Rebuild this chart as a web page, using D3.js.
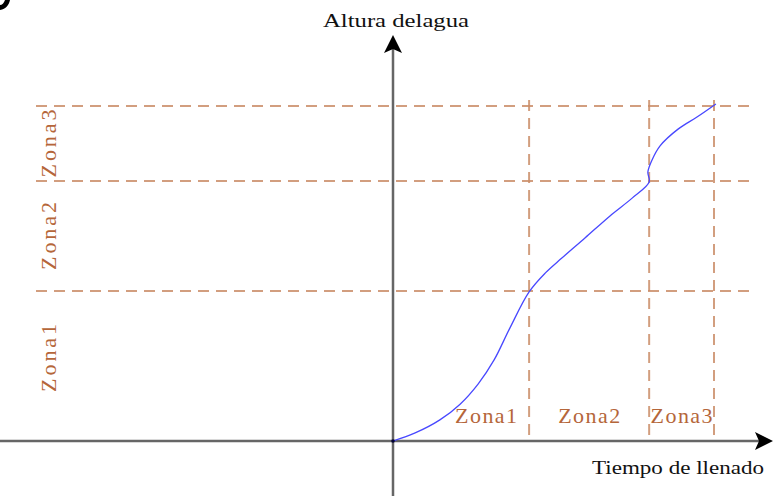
<!DOCTYPE html>
<html><head><meta charset="utf-8">
<script src="https://cdn.jsdelivr.net/npm/d3@7"></script>
<style>html,body{margin:0;padding:0;background:#fff;overflow:hidden}</style>
</head><body>
<svg id="c" width="782" height="496"></svg>
<script>
// ---- data ----
const xLabel = "Tiempo de llenado";
const yLabel = "Altura delagua";
const zoneNames = ["Zona1", "Zona2", "Zona3"];
const timeBounds = [0, 42.4, 79.8, 100];      // zone limits on time axis
const heightBounds = [0, 44.8, 77.6, 100];    // zone limits on height axis
const curveTime   = [0, 6.9, 14.6, 20.9, 26.5, 31.5, 36.4, 42.4, 47.4, 52.6, 59.8, 67.6, 74.5, 79.8, 79.4, 80.7, 83.2, 88.8, 94.7, 100.6];
const curveHeight = [0, 2.4, 6.3, 11.0, 17.0, 24.2, 33.7, 44.5, 50.1, 54.6, 60.6, 67.2, 72.5, 77.3, 80.3, 83.9, 88.1, 93.1, 96.7, 100.6];

// ---- drawing ----
const svg = d3.select("#c");
const x = d3.scaleLinear().domain([0, 100]).range([393, 714]);
const y = d3.scaleLinear().domain([0, 100]).range([441, 106]);
const brown = "#b5663a";
const dash = "#cb8e69";

// cropped glyph fragment at top-left
svg.append("path").attr("d", "M0,10 C6,9 9,5 10,0 L5,0 C4,3 2,5 0,5 Z").attr("fill", "#000");

// horizontal dashed lines
svg.selectAll("line.hd").data(heightBounds.slice(1)).enter().append("line")
  .attr("x1", 36).attr("x2", 752).attr("y1", d => y(d)).attr("y2", d => y(d))
  .attr("stroke", dash).attr("stroke-width", 2).attr("stroke-dasharray", "11,7").attr("opacity", 0.85);
// vertical dashed lines
svg.selectAll("line.vd").data(timeBounds.slice(1)).enter().append("line")
  .attr("x1", d => x(d)).attr("x2", d => x(d)).attr("y1", 100).attr("y2", y(0))
  .attr("stroke", dash).attr("stroke-width", 2).attr("stroke-dasharray", "11,7").attr("opacity", 0.85);

// axes
svg.append("line").attr("x1", 0).attr("x2", 760).attr("y1", y(0)).attr("y2", y(0))
  .attr("stroke", "#666").attr("stroke-width", 2.5);
svg.append("line").attr("x1", x(0)).attr("x2", x(0)).attr("y1", 496).attr("y2", 45)
  .attr("stroke", "#666").attr("stroke-width", 2.5);
// arrowheads
const ax = x(0), ay = 35;
svg.append("path").attr("d", `M${ax},${ay} L${ax+9},${ay+18} L${ax},${ay+14} L${ax-9},${ay+18} Z`).attr("fill", "#000");
const bx = 773, by = y(0);
svg.append("path").attr("d", `M${bx},${by} L${bx-18},${by-9} L${bx-14},${by} L${bx-18},${by+9} Z`).attr("fill", "#000");

// curve
const pts = curveTime.map((t, i) => [t, curveHeight[i]]);
svg.append("path").datum(pts)
  .attr("d", d3.line().x(d => x(d[0])).y(d => y(d[1])).curve(d3.curveCatmullRom.alpha(0.5)))
  .attr("fill", "none").attr("stroke", "#4848ff").attr("stroke-width", 1.3);
svg.append("circle").attr("cx", x(0)).attr("cy", y(0)).attr("r", 1.8).attr("fill", "#000033");

// axis labels
svg.append("text").attr("x", 396).attr("y", 27).attr("text-anchor", "middle")
  .attr("font-family", "Liberation Serif").attr("font-size", 18).attr("fill", "#111")
  .attr("textLength", 146).attr("lengthAdjust", "spacingAndGlyphs").text(yLabel);
svg.append("text").attr("x", 592).attr("y", 474)
  .attr("font-family", "Liberation Serif").attr("font-size", 19).attr("fill", "#111")
  .attr("textLength", 172).attr("lengthAdjust", "spacingAndGlyphs").text(xLabel);

// zone labels on time axis
svg.selectAll("text.bz").data(zoneNames).enter().append("text")
  .attr("x", (d, i) => (x(timeBounds[i]) + x(timeBounds[i+1])) / 2 + (i === 0 ? 25 : 0))
  .attr("y", 423).attr("text-anchor", "middle")
  .attr("font-family", "Liberation Serif").attr("font-size", 22).attr("fill", brown)
  .attr("textLength", 62).attr("lengthAdjust", "spacing").text(d => d);

// zone labels on height axis (rotated)
svg.selectAll("text.lz").data(zoneNames).enter().append("text")
  .attr("transform", (d, i) => `translate(56,${(y(heightBounds[i]) + y(heightBounds[i+1])) / 2 + (i === 0 ? -8 : 0)}) rotate(-90)`)
  .attr("text-anchor", "middle")
  .attr("font-family", "Liberation Serif").attr("font-size", 22).attr("fill", brown)
  .attr("textLength", 68).attr("lengthAdjust", "spacing").text(d => d);
</script>
</body></html>
